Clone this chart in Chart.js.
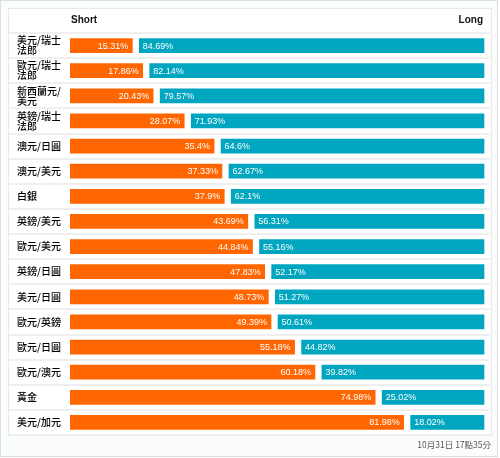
<!DOCTYPE html>
<html><head><meta charset="utf-8">
<script src="https://cdn.jsdelivr.net/npm/chart.js@4/dist/chart.umd.min.js"></script>
<style>
html,body{margin:0;padding:0;background:#fff;}
#wrap{position:relative;width:500px;height:458px;}
#outer{position:absolute;left:0;top:0;width:496px;height:455px;border:1px solid #d6e1e4;background:#fbfcfc;}
#panel{position:absolute;left:8px;top:8px;width:482px;height:426px;border:1px solid #e9e9e9;background:#fff;}
canvas{position:absolute;left:0;top:0;}
</style></head>
<body><div id="wrap"><div id="outer"></div><div id="panel"></div><canvas id="c" width="500" height="458"></canvas></div>
<script>
const categories = [['美元/瑞士','法郎'], ['歐元/瑞士','法郎'], ['新西蘭元/','美元'], ['英鎊/瑞士','法郎'], '澳元/日圓', '澳元/美元', '白銀', '英鎊/美元', '歐元/美元', '英鎊/日圓', '美元/日圓', '歐元/英鎊', '歐元/日圓', '歐元/澳元', '黃金', '美元/加元'];
const shortValues = [15.31, 17.86, 20.43, 28.07, 35.4, 37.33, 37.9, 43.69, 44.84, 47.83, 48.73, 49.39, 55.18, 60.18, 74.98, 81.98];
const longValues = [84.69, 82.14, 79.57, 71.93, 64.6, 62.67, 62.1, 56.31, 55.16, 52.17, 51.27, 50.61, 44.82, 39.82, 25.02, 18.02];
const seriesNames = ['Short', 'Long'];
const footerText = '10月31日 17點35分';

const GAP = 7;
const NUM_FONT = '"Liberation Sans", Arial, sans-serif';
const CJK_FONT = '"Noto Sans CJK TC", "Noto Sans CJK SC", sans-serif';

const decor = {
  id: 'decor',
  beforeDatasetsDraw(chart) {
    const ctx = chart.ctx, y = chart.scales.y, area = chart.chartArea;
    const n = categories.length;
    const step = (y.getPixelForValue(n - 1) - y.getPixelForValue(0)) / (n - 1);
    ctx.save();
    ctx.strokeStyle = '#efefef';
    ctx.lineWidth = 2;
    for (let i = 0; i <= n; i++) {
      const py = Math.round(y.getPixelForValue(i) - step / 2);
      ctx.beginPath();
      ctx.moveTo(9, py);
      ctx.lineTo(490, py);
      ctx.stroke();
    }
    ctx.fillStyle = '#111';
    ctx.font = 'bold 10px ' + NUM_FONT;
    ctx.textBaseline = 'middle';
    ctx.textAlign = 'left';
    ctx.fillText(seriesNames[0], area.left + 1, 20);
    ctx.textAlign = 'right';
    ctx.fillText(seriesNames[1], area.right + GAP - 1, 20);
    ctx.fillStyle = '#555';
    ctx.font = '8.5px ' + CJK_FONT;
    ctx.fillText(footerText, 491, 445);
    ctx.restore();
  },
  beforeDatasetDraw(chart, args) {
    if (args.index === 1) { chart.ctx.save(); chart.ctx.translate(GAP, 0); }
  },
  afterDatasetDraw(chart, args) {
    if (args.index === 1) chart.ctx.restore();
  },
  afterDatasetsDraw(chart) {
    const ctx = chart.ctx;
    ctx.save();
    ctx.fillStyle = '#fff';
    ctx.font = '9px ' + NUM_FONT;
    ctx.textBaseline = 'middle';
    chart.getDatasetMeta(0).data.forEach((el, i) => {
      ctx.textAlign = 'right';
      ctx.fillText(shortValues[i] + '%', el.x - 4, el.y + 0.5);
    });
    chart.getDatasetMeta(1).data.forEach((el, i) => {
      ctx.textAlign = 'left';
      ctx.fillText(longValues[i] + '%', el.base + GAP + 3.5, el.y + 0.5);
    });
    ctx.restore();
  }
};

new Chart(document.getElementById('c'), {
  type: 'bar',
  data: {
    labels: categories,
    datasets: [
      { label: seriesNames[0], data: shortValues, backgroundColor: '#ff6600', borderWidth: 0, barThickness: 14 },
      { label: seriesNames[1], data: longValues, backgroundColor: '#00a6c0', borderWidth: 0, barThickness: 14, clip: false }
    ]
  },
  options: {
    indexAxis: 'y',
    responsive: false,
    animation: false,
    devicePixelRatio: 1,
    layout: { padding: { left: 17, top: 33, right: 23, bottom: 23 } },
    plugins: { legend: { display: false }, tooltip: { enabled: false } },
    scales: {
      x: { stacked: true, min: 0, max: 100, display: false },
      y: {
        stacked: true,
        grid: { display: false },
        border: { display: false },
        ticks: { crossAlign: 'far', padding: 0, color: '#000', font: { family: CJK_FONT, size: 10, weight: '500', lineHeight: 1 } },
        afterFit(s) { s.width = 53; }
      }
    }
  },
  plugins: [decor]
});
</script>
</body></html>
